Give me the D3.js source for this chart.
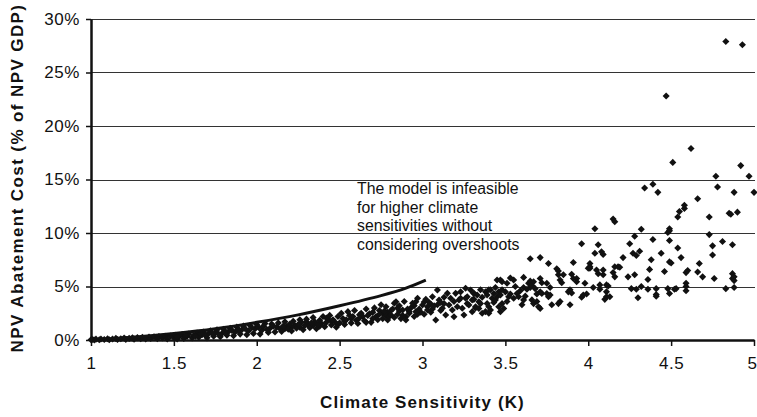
<!DOCTYPE html>
<html>
<head>
<meta charset="utf-8">
<script src="https://cdn.jsdelivr.net/npm/d3@7"></script>
<style>
  body { margin: 0; background: #fff; }
  text { font-family: "Liberation Sans", Arial, sans-serif; fill: #111; }
</style>
</head>
<body>
<div id="chart"></div>
<script>
// Climate sensitivity (K) vs NPV abatement cost (% of NPV GDP)
const xTicks = [1, 1.5, 2, 2.5, 3, 3.5, 4, 4.5, 5];
const yTicks = [0, 5, 10, 15, 20, 25, 30];

// feasibility bound (solid line)
const boundX = [1, 1.25, 1.5, 1.75, 2, 2.25, 2.5, 2.75, 2.9, 3.02];
const boundY = [0, 0.25, 0.6, 1.05, 1.65, 2.35, 3.2, 4.15, 4.85, 5.6];

// sampled model runs [sensitivity, cost %]
const runsLow = [
  [1.00,0.02],[1.01,0.05],[1.02,0.0],[1.03,0.08],[1.05,0.03],[1.06,0.1],[1.08,0.05],[1.10,0.12],
  [1.11,0.02],[1.13,0.1],[1.15,0.15],[1.16,0.05],[1.18,0.12],[1.20,0.18],[1.21,0.06],[1.23,0.15],
  [1.25,0.2],[1.26,0.08],[1.28,0.22],[1.30,0.12],[1.31,0.25],[1.33,0.1],[1.35,0.28],[1.36,0.15],
  [1.38,0.3],[1.40,0.12],[1.41,0.32],[1.43,0.2],[1.45,0.35],[1.46,0.1],[1.48,0.38],[1.50,0.22],
  [1.51,0.45],[1.52,0.1],[1.53,0.3],[1.55,0.5],[1.56,0.15],[1.58,0.35],[1.59,0.55],[1.61,0.2],
  [1.62,0.45],[1.64,0.65],[1.65,0.25],[1.67,0.5],[1.68,0.75],[1.70,0.2],[1.71,0.6],[1.72,0.85],
  [1.74,0.35],[1.75,0.7],[1.76,0.95],[1.78,0.3],[1.79,0.6],[1.80,1.0],[1.82,0.45],[1.83,0.8],
  [1.84,1.1],[1.86,0.4],[1.87,0.75],[1.88,1.2],[1.90,0.55],[1.91,0.95],[1.92,1.3],[1.94,0.5],
  [1.95,0.85],[1.96,1.35],[1.98,0.6],[1.99,1.05],[2.00,1.45],[2.02,0.55],[2.03,0.9],[2.04,1.3],
  [2.05,1.55],[2.07,0.7],[2.08,1.1],[2.09,1.5],[2.11,0.75],[2.12,1.2],[2.13,1.6]
];
const runsBand = [
  [1.52,0.3],[1.57,0.4],[1.63,0.35],[1.66,0.6],[1.69,0.45],[1.73,0.6],[1.77,0.55],[1.81,0.75],
  [1.85,0.9],[1.89,0.95],[1.93,1.05],[1.97,1.15],[2.01,1.2],[2.06,1.0],[2.10,1.3],[2.14,1.05],
  [2.18,1.25],[2.23,1.35],[2.27,1.65],[2.31,1.45],[2.35,1.7],[2.39,1.55],[2.43,1.95],[2.47,1.7],
  [2.52,2.0],[2.56,2.3],[2.60,1.85],[2.64,2.2],[2.68,2.45],[2.72,2.2],[2.76,2.5],[2.79,2.6],
  [2.83,2.1],[2.86,2.7],[2.91,2.9],[2.95,3.2],[2.99,2.6],[3.03,3.1],[3.06,2.9],[3.09,3.3],
  [3.13,3.4],[3.19,3.6],[3.23,3.9],[3.27,3.4],[3.31,3.8],[3.36,4.0],[3.38,4.5],[3.43,3.5],
  [3.44,4.9],[3.50,4.5],[3.53,4.3],[3.56,5.0],[3.59,4.6],[3.62,4.1],[3.64,5.3],
  [2.17,1.05],[2.21,1.2],[2.26,1.2],[2.30,1.7],[2.34,1.35],[2.38,1.3],[2.42,2.05],[2.45,1.75],
  [2.49,1.45],[2.53,1.75],[2.57,2.0],[2.62,2.35],[2.66,1.65],[2.70,2.0],[2.74,2.75],[2.78,2.3],
  [2.81,2.75],[2.85,3.0],[2.88,2.3],[2.92,2.65],[2.97,2.4],[3.01,3.55],[3.05,3.35],[3.11,2.75]
];
const runsMid = [
  [2.15,0.8],[2.16,1.3],[2.17,1.7],[2.19,1.0],[2.20,1.5],[2.21,0.85],[2.22,1.75],[2.24,1.1],
  [2.25,1.45],[2.26,1.9],[2.28,0.95],[2.29,1.35],[2.30,1.95],[2.32,1.15],[2.33,1.6],[2.34,2.1],
  [2.36,1.05],[2.37,1.45],[2.38,1.85],[2.40,2.2],[2.41,1.25],[2.42,1.65],[2.44,2.3],[2.45,1.4],
  [2.46,1.9],[2.48,1.2],[2.49,2.2],[2.50,1.6],[2.51,2.5],[2.53,1.45],[2.54,1.9],[2.55,2.65],
  [2.57,1.6],[2.58,2.2],[2.59,2.75],[2.61,1.55],[2.62,2.05],[2.63,2.5],[2.65,1.8],[2.66,2.9],
  [2.67,2.3],[2.69,1.65],[2.70,2.6],[2.71,3.0],[2.73,1.9],[2.74,2.4],[2.75,3.3],
  [2.76,2.0],[2.77,2.7],[2.78,3.1],[2.79,1.87],[2.80,2.2],[2.81,2.34],[2.82,2.9],[2.83,3.43],
  [2.84,3.58],[2.85,2.4],[2.86,3.2],[2.87,2.0],[2.88,2.8],[2.89,3.6],[2.90,2.18],[2.90,1.87],
  [2.92,2.5],[2.93,3.0],[2.94,3.43],[2.95,2.2],[2.96,3.58],[2.96,2.65],[2.97,3.9],[2.98,2.9],
  [3.00,3.27],[3.01,2.4],[3.02,3.8],[3.03,2.8],[3.04,3.5],[3.05,2.6],[3.06,4.05],[3.07,3.2],
  [3.08,1.87],[3.09,4.67],[3.10,3.74],[3.11,3.5],[3.12,2.96],[3.13,4.0],[3.14,2.34],[3.15,4.36],
  [3.16,3.27],[3.17,3.9],[3.18,2.8],[3.19,2.18],[3.20,4.36],[3.21,3.1],[3.22,3.74],[3.23,4.5],
  [3.24,2.96],[3.25,2.34],[3.26,4.83],[3.26,3.9],[3.27,4.05],[3.28,3.27],[3.29,4.67],[3.30,2.65],
  [3.30,3.75],[3.31,4.36],[3.31,4.35],[3.32,3.0],[3.32,3.1],[3.33,4.2],[3.34,3.58],[3.34,2.95],
  [3.35,3.4],[3.35,4.7],[3.36,2.5],[3.38,2.65],[3.39,3.4],[3.39,4.2],[3.40,3.1],[3.40,2.5],
  [3.40,4.7],[3.41,2.8],[3.41,4.7],[3.42,3.9],[3.43,4.35],[3.44,3.75],[3.45,4.05],[3.45,5.6],
  [3.46,3.1],[3.46,4.5],[3.47,2.65],[3.47,4.2],[3.47,5.6],[3.48,3.4],[3.48,4.7],[3.48,5.45],
  [3.49,2.95],[3.51,3.6],[3.51,5.3],[3.52,4.05],[3.53,5.8],[3.55,5.6],[3.55,3.9],[3.57,4.35],
  [3.58,4.05],[3.60,3.3],[3.61,5.85],[3.61,4.9],[3.61,3.75],[3.63,4.75],[3.65,7.6],[3.65,5.5],
  [3.65,4.9],[3.66,5.1],[3.66,3.75],[3.67,5.45],[3.67,3.4],[3.68,4.8],[3.69,4.3],[3.69,3.6]
];
const runsHigh = [
  [3.70,3.1],[3.71,7.7],[3.71,5.75],[3.71,4.5],[3.71,2.95],[3.72,5.35],[3.72,4.35],[3.75,5.3],
  [3.75,4.35],[3.76,7.15],[3.76,4.05],[3.77,4.9],[3.77,4.2],[3.78,3.3],[3.81,6.65],[3.82,6.45],
  [3.82,6.1],[3.82,3.4],[3.83,5.6],[3.83,3.6],[3.84,5.35],[3.85,6.1],[3.88,4.5],[3.89,4.7],
  [3.89,3.3],[3.90,6.15],[3.90,4.4],[3.91,7.25],[3.91,5.75],[3.93,5.75],[3.93,5.45],[3.96,9.0],
  [3.96,4.0],[3.97,4.2],[3.98,5.3],[3.99,4.3],[4.00,6.7],[4.01,7.15],[4.01,6.7],[4.01,6.85],
  [4.03,4.9],[4.04,10.4],[4.04,8.1],[4.05,6.55],[4.06,8.9],[4.06,6.2],[4.07,4.75],[4.07,5.15],
  [4.08,8.25],[4.09,8.0],[4.09,6.55],[4.09,6.1],[4.10,3.8],[4.11,4.5],[4.11,4.05],[4.11,5.15],
  [4.12,5.05],[4.13,4.05],[4.15,11.3],[4.15,6.3],[4.16,11.05],[4.16,6.85],[4.16,5.9],[4.18,6.85],
  [4.19,6.8],[4.21,7.7],[4.24,5.9],[4.25,9.0],[4.26,4.8],[4.27,8.1],[4.28,9.7],[4.28,6.1],
  [4.29,7.9],[4.29,4.75],[4.30,3.95],[4.31,8.3],[4.32,10.35],[4.32,5.0],[4.34,14.2],[4.36,5.65],
  [4.36,4.75],[4.37,6.6],[4.38,7.5],[4.39,14.55],[4.39,9.4],[4.41,4.8],[4.41,4.25],[4.41,4.1],
  [4.42,13.8],[4.44,8.1],[4.46,6.4],[4.47,22.8],[4.48,10.05],[4.48,4.8],[4.49,10.4],[4.49,10.2],
  [4.49,9.3],[4.49,7.3],[4.49,4.35],[4.50,7.2],[4.51,16.6],[4.52,4.75],[4.53,4.8],[4.54,11.5],
  [4.54,8.6],[4.55,12.0],[4.56,7.7],[4.58,12.6],[4.58,12.3],[4.59,6.3],[4.59,5.3],[4.59,5.0],
  [4.59,4.6],[4.60,6.5],[4.62,17.9],[4.66,13.2],[4.66,6.35],[4.67,7.15],[4.69,5.9],[4.73,11.5],
  [4.73,9.85],[4.75,8.8],[4.75,7.95],[4.76,5.75],[4.77,15.3],[4.78,14.3],[4.81,9.2],[4.83,27.9],
  [4.83,4.8],[4.85,11.85],[4.86,11.75],[4.87,8.9],[4.87,6.2],[4.87,5.75],[4.88,13.8],[4.88,5.9],
  [4.88,5.55],[4.88,4.9],[4.90,11.95],[4.92,16.3],[4.93,27.6],[4.97,15.3],[5.00,13.8]
];
const runs = runsLow.concat(runsBand, runsMid, runsHigh);

const width = 757, height = 417;
const svg = d3.select("#chart").append("svg")
    .attr("width", width)
    .attr("height", height);

const x = d3.scaleLinear().domain([1, 5]).range([91, 754]);
const y = d3.scaleLinear().domain([0, 30]).range([340, 19]);

// horizontal gridlines
svg.append("g")
    .selectAll("line")
    .data(yTicks.filter(d => d > 0))
    .join("line")
    .attr("x1", x(1)).attr("x2", x(5) + 1)
    .attr("y1", d => Math.round(y(d)) + 0.5)
    .attr("y2", d => Math.round(y(d)) + 0.5)
    .attr("stroke", "#333")
    .attr("stroke-width", 1.2);

// scatter of runs: rotated squares (diamonds)
const diamond = d3.symbol().type(d3.symbolSquare).size(25);
svg.append("g")
    .selectAll("path")
    .data(runs)
    .join("path")
    .attr("d", diamond)
    .attr("transform", d => `translate(${x(d[0])},${y(d[1])}) rotate(45)`)
    .attr("fill", "#111");

// bound line
const line = d3.line()
    .x(d => x(d[0]))
    .y(d => y(d[1]))
    .curve(d3.curveCatmullRom);
svg.append("path")
    .datum(boundX.map((v, i) => [v, boundY[i]]))
    .attr("d", line)
    .attr("fill", "none")
    .attr("stroke", "#111")
    .attr("stroke-width", 3);

// x axis
const xAxis = d3.axisBottom(x)
    .tickValues(xTicks)
    .tickSize(6)
    .tickSizeOuter(0)
    .tickFormat(d3.format("~g"));
const gx = svg.append("g")
    .attr("transform", `translate(0,${y(0)})`)
    .call(xAxis);
gx.select(".domain").attr("stroke", "#111").attr("stroke-width", 2.5);
gx.selectAll(".tick line").attr("stroke", "#111").attr("stroke-width", 1.5);
gx.selectAll(".tick text")
    .attr("y", 17)
    .attr("dy", "0.71em")
    .style("font-size", "17px")
    .style("letter-spacing", "0.6px")
    .attr("fill", "#111");
// last label sits at the right edge
gx.selectAll(".tick text").filter(d => d === 5)
    .attr("text-anchor", "end")
    .attr("x", 3);

// y axis
const yAxis = d3.axisLeft(y)
    .tickValues(yTicks)
    .tickSize(5)
    .tickSizeOuter(0)
    .tickFormat(d => d + "%");
const gy = svg.append("g")
    .attr("transform", `translate(${x(1)},0)`)
    .call(yAxis);
gy.select(".domain").attr("stroke", "#111").attr("stroke-width", 2.5);
gy.selectAll(".tick line").attr("stroke", "#111").attr("stroke-width", 1.5);
gy.selectAll(".tick text")
    .attr("x", -11)
    .style("font-size", "17px")
    .style("letter-spacing", "0.6px")
    .attr("fill", "#111");

// axis titles
svg.append("text")
    .attr("x", (x(1) + x(5)) / 2)
    .attr("y", 408)
    .attr("text-anchor", "middle")
    .style("font-size", "17px")
    .style("font-weight", "bold")
    .style("letter-spacing", "1.1px")
    .text("Climate Sensitivity (K)");

svg.append("text")
    .attr("transform", "translate(23,178) rotate(-90)")
    .attr("text-anchor", "middle")
    .style("font-size", "17px")
    .style("font-weight", "bold")
    .style("letter-spacing", "1.4px")
    .text("NPV Abatement Cost (% of NPV GDP)");

// annotation
const note = ["The model is infeasible", "for higher climate",
              "sensitivities without", "considering overshoots"];
svg.append("g")
    .selectAll("text")
    .data(note)
    .join("text")
    .attr("x", 357)
    .attr("y", (d, i) => 194 + i * 18.5)
    .style("font-size", "15.8px")
    .text(d => d);
</script>
</body>
</html>
